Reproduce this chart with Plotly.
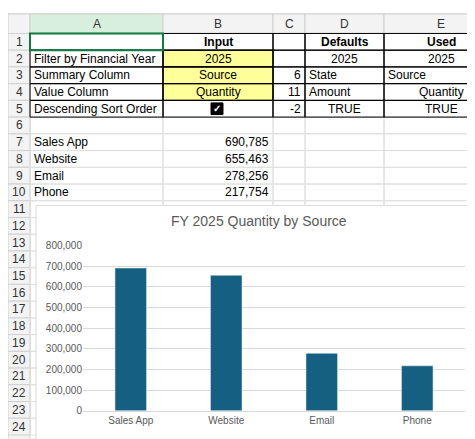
import plotly.graph_objects as go

categories = ["Sales App", "Website", "Email", "Phone"]
values = [690785, 655463, 278256, 217754]
tick_vals = [0, 100000, 200000, 300000, 400000, 500000, 600000, 700000, 800000]

W, H = 475, 439
def px(x): return x / W
def py(y): return 1 - y / H

cols = [("A", 22, 155), ("B", 155, 265), ("C", 265, 297), ("D", 297, 376), ("E", 376, 490)]
RH = 17.2
def rtop(r): return 20 + (r - 1) * RH
def rmid(r): return rtop(r) + RH / 2

shapes, ann = [], []
def rect(x0, y0, x1, y1, fill=None, line="#d4d4d4", w=1):
    shapes.append(dict(type="rect", xref="paper", yref="paper", x0=px(x0), x1=px(x1), y0=py(y1), y1=py(y0),
                       fillcolor=fill or "rgba(0,0,0,0)", line=dict(color=line, width=w), layer="below"))
def text(x, y, t, anchor="left", size=12, color="black", bold=False):
    ann.append(dict(xref="paper", yref="paper", x=px(x), y=py(y), text=("<b>%s</b>" % t) if bold else t,
                    showarrow=False, xanchor=anchor, yanchor="middle", font=dict(size=size, color=color)))

rect(0, 0, 475, 20, fill="#f3f3f3", line="#d0d0d0")
rect(0, 0, 22, 439, fill="#f3f3f3", line="#d0d0d0")
for c, x0, x1 in cols:
    rect(x0, 0, x1, 20, fill="#d9efdd" if c == "A" else "#f3f3f3", line="#d0d0d0")
    text((x0 + x1) / 2, 10, c, "center", 12, "#333")
for r in range(1, 25):
    rect(0, rtop(r), 22, rtop(r) + RH, fill="#f3f3f3", line="#d0d0d0")
    text(11, rmid(r), str(r), "center", 12, "#333")
    for c, x0, x1 in cols:
        rect(x0, rtop(r), x1, rtop(r) + RH, line="#e0e0e0")
for r in (2, 3, 4):
    rect(155, rtop(r), 265, rtop(r) + RH, fill="#ffff99", line="black")
for r in range(1, 6):
    for c, x0, x1 in cols:
        rect(x0, rtop(r), x1, rtop(r) + RH, line="black")
rect(22, rtop(1), 155, rtop(1) + RH, line="#107c41", w=2)

cells = {
    1: [("B", "Input", "c", True), ("D", "Defaults", "c", True), ("E", "Used", "c", True)],
    2: [("A", "Filter by Financial Year", "l", False), ("B", "2025", "c", False), ("D", "2025", "c", False), ("E", "2025", "c", False)],
    3: [("A", "Summary Column", "l", False), ("B", "Source", "c", False), ("C", "6", "r", False), ("D", "State", "l", False), ("E", "Source", "l", False)],
    4: [("A", "Value Column", "l", False), ("B", "Quantity", "c", False), ("C", "11", "r", False), ("D", "Amount", "l", False), ("E", "Quantity", "c", False)],
    5: [("A", "Descending Sort Order", "l", False), ("C", "-2", "r", False), ("D", "TRUE", "c", False), ("E", "TRUE", "c", False)],
}
cmap = {c: (x0, x1) for c, x0, x1 in cols}
for r, lst in cells.items():
    for c, t, a, b in lst:
        x0, x1 = cmap[c]
        if a == "c": text((x0 + x1) / 2, rmid(r), t, "center", bold=b)
        elif a == "l": text(x0 + 2, rmid(r), t, "left", bold=b)
        else: text(x1 - 2, rmid(r), t, "right", bold=b)
rect(203, rmid(5) - 6, 215, rmid(5) + 6, fill="black", line="black")
text(209, rmid(5), "✓", "center", 10, "white", True)
for i, (cat, v) in enumerate(zip(categories, values)):
    text(24, rmid(7 + i), cat, "left")
    text(263, rmid(7 + i), f"{v:,}", "right")

shapes.append(dict(type="rect", xref="paper", yref="paper", x0=px(28), x1=px(474), y0=py(438), y1=py(197),
                   fillcolor="white", line=dict(color="#d9d9d9", width=1), layer="below"))
text(251, 213, "FY 2025 Quantity by Source", "center", 14, "#595959")

fig = go.Figure(go.Bar(x=categories, y=values, marker_color="#156082", width=0.33))
fig.update_layout(
    width=W, height=H, margin=dict(l=0, r=0, t=0, b=0), paper_bgcolor="white", plot_bgcolor="rgba(0,0,0,0)",
    font=dict(family="Liberation Sans, Arial", size=12, color="black"),
    shapes=shapes, annotations=ann, showlegend=False,
    xaxis=dict(domain=[px(75), px(457)], showgrid=False, tickfont=dict(size=10, color="#595959"),
               showline=True, linecolor="#d9d9d9", ticks=""),
    yaxis=dict(domain=[py(408), py(238)], range=[0, 800000], tickvals=tick_vals,
               tickformat=",", tickfont=dict(size=10, color="#595959"), gridcolor="#d9d9d9", zeroline=False),
)
fig.write_html("out.html")
